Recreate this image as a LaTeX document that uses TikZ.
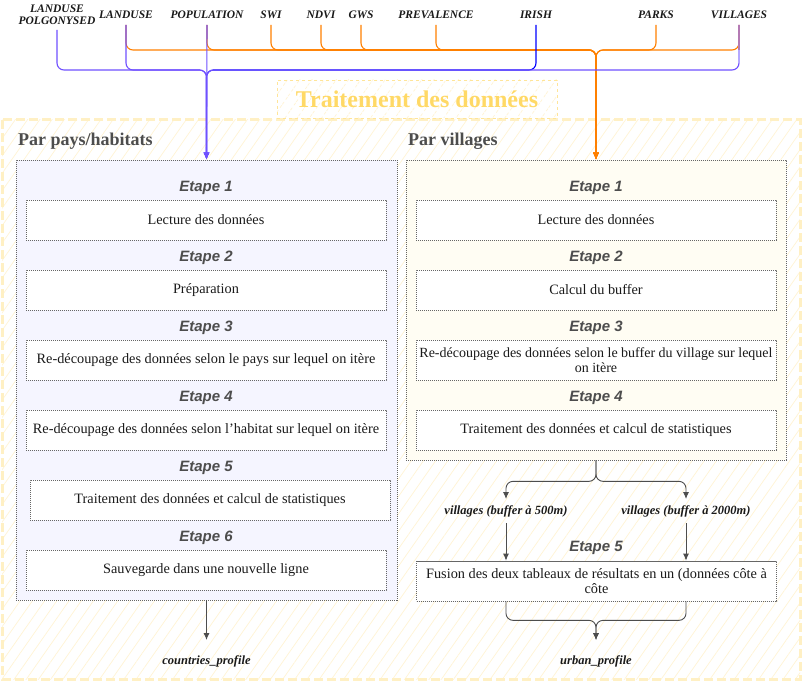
\documentclass[tikz,border=0pt]{standalone}
\usepackage{fontspec}
\setmainfont{Liberation Serif}
\newfontfamily\sansf{Liberation Sans}
\usetikzlibrary{arrows.meta,patterns.meta,calc}
\definecolor{purp}{HTML}{7050FF}
\definecolor{orng}{HTML}{FF8000}
\definecolor{irishblue}{HTML}{0000FF}
\definecolor{gtxt}{HTML}{4D4D4D}
\definecolor{btxt}{HTML}{1A1A1A}
\definecolor{frameY}{HTML}{FFF0C4}
\definecolor{hatchY}{HTML}{FFF4D4}
\definecolor{titleY}{HTML}{FFD966}
\definecolor{titleB}{HTML}{FFE599}
\definecolor{lav}{HTML}{F5F5FF}
\definecolor{cream}{HTML}{FFFDF3}
\definecolor{dotg}{HTML}{666666}
\definecolor{arrg}{HTML}{4D4D4D}
\definecolor{mauve}{HTML}{B47AB4}
\definecolor{lavline}{HTML}{B4A8FF}
\begin{document}
\begin{tikzpicture}[x=1pt,y=-1pt,
  src/.style={font=\bfseries\itshape\fontsize{11.5}{12}\selectfont, text=btxt, anchor=south, inner xsep=1pt, inner ysep=6pt, text depth=0pt, align=center},
  pline/.style={draw=purp, line width=1.1pt, rounded corners=7pt, -{Latex[length=7pt,width=6pt]}},
  oline/.style={draw=orng, line width=1.1pt, rounded corners=7pt, -{Latex[length=7pt,width=6pt]}},
  garrow/.style={draw=arrg, line width=0.9pt, rounded corners=7pt, -{Latex[length=7pt,width=6pt]}},
  cont/.style={draw=dotg, dash pattern=on 1.2pt off 0.8pt, line width=0.7pt, inner sep=0pt},
  stepbox/.style={draw=dotg, dash pattern=on 1.2pt off 0.8pt, line width=0.7pt, fill=white, minimum width=360pt, minimum height=40pt, inner sep=0pt, align=center, text=btxt, font=\fontsize{14.3}{15.5}\selectfont},
  etape/.style={font=\sansf\bfseries\itshape\fontsize{15}{17}\selectfont, text=gtxt, inner sep=0pt},
  sect/.style={font=\bfseries\fontsize{18}{20}\selectfont, text=gtxt, anchor=west, inner sep=0pt},
  outlbl/.style={font=\bfseries\itshape\fontsize{12.5}{13}\selectfont, text=btxt, anchor=north, inner xsep=1pt, text height=8pt, text depth=2pt},
  hatch/.style={pattern={Lines[angle=55,distance=10pt,line width=0.7pt]}, pattern color=hatchY}
]
\useasboundingbox (0,0) rectangle (803,682);
\fill[white] (0,0) rectangle (803,682);

% outer frame and title
\path[hatch] (2,120) rectangle (800,679);
\draw[frameY, line width=3pt, dash pattern=on 9pt off 4pt] (2,120) rectangle (800,679);
\node[draw=titleB, dashed, line width=0.6pt, hatch, minimum width=280pt, minimum height=38pt, inner sep=0pt,
      font=\bfseries\fontsize{24}{26}\selectfont, text=titleY] (title) at (417,99) {Traitement des données};

\node[sect] (h1) at (18,141) {Par pays/habitats};
\node[sect] (h2) at (408,141) {Par villages};

% containers
\node[cont, fill=lav, minimum width=381pt, minimum height=440pt] (left) at (206.5,380) {};
\node[cont, fill=cream, minimum width=380pt, minimum height=300pt] (right) at (596,310) {};

% left steps
\node[etape] (le1) at (206,188) {Etape 1};
\node[stepbox] (lb1) at (206,220) {Lecture des données};
\node[etape] (le2) at (206,258) {Etape 2};
\node[stepbox] (lb2) at (206,290) {Préparation};
\node[etape] (le3) at (206,328) {Etape 3};
\node[stepbox] (lb3) at (206,360) {Re-découpage des données selon le pays sur lequel on itère};
\node[etape] (le4) at (206,398) {Etape 4};
\node[stepbox] (lb4) at (206,430) {Re-découpage des données selon l'habitat sur lequel on itère};
\node[etape] (le5) at (206,468) {Etape 5};
\node[stepbox] (lb5) at (210,500) {Traitement des données et calcul de statistiques};
\node[etape] (le6) at (206,538) {Etape 6};
\node[stepbox] (lb6) at (206,570) {Sauvegarde dans une nouvelle ligne};

% right steps
\node[etape] (re1) at (596,188) {Etape 1};
\node[stepbox] (rb1) at (596,220) {Lecture des données};
\node[etape] (re2) at (596,258) {Etape 2};
\node[stepbox] (rb2) at (596,290) {Calcul du buffer};
\node[etape] (re3) at (596,328) {Etape 3};
\node[stepbox, font=\fontsize{14}{15.5}\selectfont] (rb3) at (596,360) {Re-découpage des données selon le buffer du village sur lequel\\on itère};
\node[etape] (re4) at (596,398) {Etape 4};
\node[stepbox] (rb4) at (596,430) {Traitement des données et calcul de statistiques};
\node[etape] (re5) at (596,548) {Etape 5};
\node[stepbox] (rb5) at (596.5,581) {Fusion des deux tableaux de résultats en un (données côte à\\côte};

% output labels
\node[outlbl, inner ysep=7pt] (v500) at (506,499) {villages (buffer à 500m)};
\node[outlbl, inner ysep=7pt] (v2000) at (686,499) {villages (buffer à 2000m)};
\node[outlbl, inner ysep=16pt] (countries) at (206.5,640) {countries\_profile};
\node[outlbl, inner ysep=16pt] (urban) at (596,640) {urban\_profile};

% bottom connectors
\draw[garrow] (left.south) -- (countries.north);
\draw[garrow] (right.south) -- ++(0,21) -| (v500.north);
\draw[garrow] (right.south) -- ++(0,21) -| (v2000.north);
\draw[garrow] (v500.south) -- (v500.south |- rb5.north);
\draw[garrow] (v2000.south) -- (v2000.south |- rb5.north);
\draw[garrow] (rb5.south -| v500.south) -- ++(0,19) -| (urban.north);
\draw[garrow] (rb5.south -| v2000.south) -- ++(0,19) -| (urban.north);

% top sources
\node[src, inner ysep=5pt] (lp) at (57,30) {LANDUSE\\POLGONYSED};
\node[src] (lu) at (126,25) {LANDUSE};
\node[src] (pop) at (207,25) {POPULATION};
\node[src] (swi) at (271,25) {SWI};
\node[src] (ndvi) at (321,25) {NDVI};
\node[src] (gws) at (361,25) {GWS};
\node[src] (prev) at (436,25) {PREVALENCE};
\node[src] (irish) at (536,25) {IRISH};
\node[src] (parks) at (656,25) {PARKS};
\node[src] (vil) at (739,25) {VILLAGES};

\coordinate (pj) at (206.5,70);
\coordinate (oj) at (596,50);

\foreach \s in {lu,pop,swi,ndvi,gws,prev,parks,vil}
  \draw[oline] (\s.south) |- (oj) -- (right.north);
\draw[pline, draw=irishblue] (irish.south) |- (pj) -- (left.north);
\foreach \s in {lp,lu,vil}
  \draw[pline] (\s.south) |- (pj) -- (left.north);
\draw[pline] (pop.south) -- (left.north);
% lighter look of the VILLAGES purple branch near its source
\draw[mauve, line width=1.1pt] (vil.south) -- (vil.south |- oj);
\draw[lavline, line width=1.1pt] (vil.south |- oj) -- ++(0,13);
\end{tikzpicture}
\end{document}
